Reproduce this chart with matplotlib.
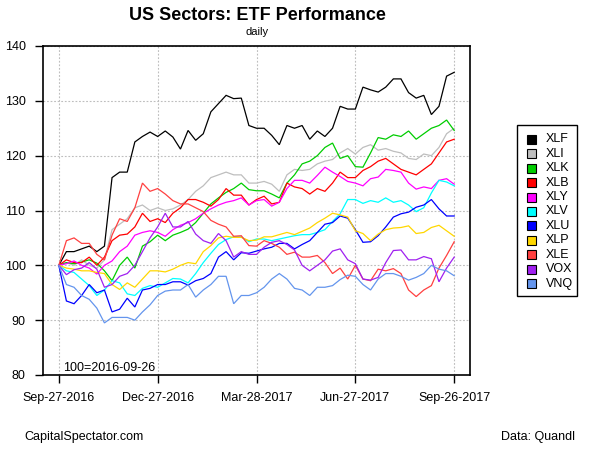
import matplotlib
matplotlib.use("Agg")
import matplotlib.pyplot as plt
import matplotlib.dates as mdates
from matplotlib.patches import Rectangle
import pandas as pd

plt.rcParams['font.family'] = ['Liberation Sans', 'DejaVu Sans']

# weekly samples, 2016-09-27 .. 2017-09-26 (index, 100 = 2016-09-26)
dates = pd.date_range('2016-09-27', periods=53, freq='7D')

tickers = ["XLF", "XLI", "XLK", "XLB", "XLY", "XLV", "XLU", "XLP", "XLE", "VOX", "VNQ"]
colors = ["#000000", "#BEBEBE", "#00CD00", "#FF0000", "#FF00FF", "#00FFFF",
          "#0000FF", "#FFD700", "#FF4040", "#A020F0", "#6495ED"]

XLF = [100, 102.5, 102.5, 103, 103.5, 102.5, 103.5, 116, 117, 117, 122.5, 123.5, 124.3,
       123.5, 124.5, 123.4, 121.2, 124.6, 122.8, 124, 128, 129.5, 131, 130.4, 130.5, 125.5,
       125, 125, 123.7, 122, 125.5, 125, 125.5, 123, 124.5, 123.5, 125, 129, 128.5, 128.5,
       132.5, 132, 131.6, 132.5, 134, 134, 131.5, 130.5, 131, 127.5, 129, 134.5, 135.2]
XLI = [100, 100.5, 100, 101, 100, 99.5, 101, 106.5, 107.5, 108.5, 110.5, 111, 110,
       110.5, 110, 110.3, 111, 112, 113.5, 114.5, 116, 116.5, 117, 116.5, 116.5, 115,
       115, 115.3, 114.8, 113.5, 116.5, 117.5, 117.3, 117.5, 118.5, 119, 119.3, 120.5, 121.3, 120.3,
       121.5, 122, 121, 121.3, 120.8, 120.5, 119.5, 119.3, 120.3, 120, 121.5, 124, 125]
XLK = [100, 100.5, 100.3, 100.6, 101, 100.4, 99, 97.2, 100, 101.5, 99.5, 103.5, 104.3,
       105.5, 104.5, 105.5, 106, 106.6, 107.8, 109.5, 111.2, 112.3, 113.3, 114, 115, 113.8,
       113.6, 113.6, 113, 112.3, 115, 116.5, 118.5, 119, 120, 121.5, 122.3, 119.5, 120, 118,
       117.9, 120.5, 123.3, 123, 123.8, 123.5, 124.5, 123, 124, 125, 125.5, 126.5, 124.6]
XLB = [100, 101, 100.5, 100.5, 101.5, 100, 101.5, 104.5, 105.5, 105.7, 107, 109.5, 108,
       108.5, 107.8, 109.5, 110.5, 112, 112, 111.5, 110.8, 112, 114, 112.8, 112.8, 111,
       112, 112.6, 111.2, 111.5, 115, 114.3, 114, 113, 114, 113.5, 115, 117, 116, 116,
       117.3, 118, 119, 119.5, 118.5, 117.5, 117, 116.5, 117.5, 118.5, 120.5, 122.5, 123]
XLY = [100, 100.3, 100.8, 100, 99.5, 98.4, 100, 100.8, 102.5, 103.5, 105.5, 106, 106.3,
       106, 105.3, 106.5, 107.3, 107.8, 108.5, 109.5, 110.3, 111, 111.5, 111.8, 112.3, 111,
       111.8, 112, 110.8, 111.5, 114, 115.5, 115.5, 115, 116.4, 117.9, 117, 116.2, 115.3, 115,
       114.5, 115.8, 116.1, 117.5, 117.3, 117, 115, 113.9, 114.3, 114, 115.5, 115.8, 114.8]
XLV = [100, 99, 98.7, 97.5, 96.3, 94.5, 95.5, 97.2, 96.8, 94.8, 94.5, 95.8, 96.3,
       96, 96.8, 97.6, 97.5, 96.8, 98.5, 100.5, 102.2, 103.8, 104.7, 105.2, 105.2, 104.3,
       104.8, 104.8, 104.5, 104.8, 105.1, 105.4, 105.6, 105.6, 106, 106.5, 108, 109.4, 112, 112,
       111.3, 111.8, 111.5, 112.3, 111.5, 111.8, 111, 109.8, 110.5, 113.2, 115.5, 115.2, 114.5]
XLU = [100, 93.5, 93, 94.5, 96.5, 95, 95.5, 91.5, 92, 94, 92.4, 95.5, 95.8,
       96.5, 96.5, 97, 97, 96.4, 97.2, 97.6, 98.5, 101.5, 102.5, 101, 102.3, 102.2,
       102.6, 103, 103.3, 104, 104, 103, 103.8, 104.5, 106, 107.5, 107.8, 109, 108.6, 106.5,
       104.2, 104.3, 105.4, 107, 108.8, 109.4, 109.7, 110.6, 111, 112, 110.3, 109, 109]
XLP = [100, 99.5, 99.3, 99, 99, 98.7, 98.5, 96.5, 95.6, 96.8, 96, 97.5, 99,
       99, 98.8, 99.3, 100, 100.5, 100.3, 102.5, 103.6, 105, 105.3, 105.1, 105.1, 104.5,
       104.6, 105.2, 105.2, 105.6, 106, 105.6, 106.2, 106.8, 107.8, 108.6, 109.5, 109.2, 108.8, 106.3,
       105.8, 104.5, 105.7, 106.5, 106.8, 106.9, 107.2, 105.8, 106, 106.9, 107.3, 106.3, 105.3]
XLE = [100, 104.5, 105, 104, 104, 102, 101, 105.5, 108.5, 108, 110.5, 115, 113.5,
       114, 113, 111.8, 111.2, 111.2, 110.5, 109.8, 108.2, 107.5, 107, 105.3, 105.4, 103.6,
       103.5, 104.5, 104, 103.3, 102, 102.4, 101.5, 101.5, 101.8, 100.5, 98.5, 99.5, 97.5, 100,
       97.5, 97.2, 99.3, 99, 99.4, 98.5, 95.5, 94.3, 95.5, 96.3, 99.5, 101.8, 104.3]
VOX = [100, 98.3, 99.2, 99.5, 100.5, 99.3, 96, 96.5, 98, 98.5, 100, 102.5, 105,
       107, 109.5, 107, 107, 108, 105.7, 104.5, 104, 105.8, 104.5, 101.5, 102.5, 102,
       102, 103.3, 104.2, 104.5, 103.8, 102.8, 100, 99, 100, 101, 102.6, 103, 101, 100.3,
       97.5, 97.3, 97.8, 100.5, 102.7, 102.8, 101, 101, 101.6, 101.2, 97, 99.5, 101.5]
VNQ = [100, 96.5, 96, 94.5, 93.8, 92.2, 89.5, 90.5, 90.5, 90.5, 90, 91.5, 92.8,
       94.5, 95.3, 95.5, 95.5, 96.5, 94.2, 95.5, 96.5, 98, 98, 93, 94.5, 94.5,
       95, 96, 97.5, 98.5, 97.5, 95.8, 95.5, 94.5, 96, 96, 96.3, 97.4, 98.2, 98,
       96.5, 95.5, 97.5, 98.5, 98.5, 98, 97.3, 97.8, 98.5, 100, 99.3, 99, 98.1]

series = [XLF, XLI, XLK, XLB, XLY, XLV, XLU, XLP, XLE, VOX, VNQ]

xtick_dates = pd.to_datetime(["2016-09-27", "2016-12-27", "2017-03-28", "2017-06-27", "2017-09-26"])
yticks = [80, 90, 100, 110, 120, 130, 140]

W, H = 600, 450
fig = plt.figure(figsize=(6, 4.5), dpi=100)
L, R, T, B = 43, 470, 46, 375
ax = fig.add_axes([L / W, 1 - B / H, (R - L) / W, (B - T) / H])

for s, c in zip(series, colors):
    ax.plot(dates, s, color=c, lw=0.9, solid_joinstyle='miter')

x0 = mdates.date2num(xtick_dates[0])
x1 = mdates.date2num(xtick_dates[-1])
pad = 0.04 * (x1 - x0)
ax.set_xlim(x0 - pad, x1 + pad)
ax.set_ylim(80, 140)
ax.set_xticks(xtick_dates)
ax.set_xticklabels([d.strftime('%b-%d-%Y') for d in xtick_dates], fontsize=9)
ax.set_yticks(yticks)
ax.set_yticklabels([str(v) for v in yticks], fontsize=9)
ax.tick_params(axis='both', direction='out', length=5.5, width=1, color='black', pad=7)
ax.grid(True, color='#BEBEBE', linestyle=(0, (1.6, 1.6)), lw=0.8)
for sp in ax.spines.values():
    sp.set_linewidth(1.2)
    sp.set_color('black')

fig.text(63 / W, 1 - 368 / H, "100=2016-09-26", fontsize=9, ha='left', va='center')

fig.text(257 / W, 1 - 15 / H, "US Sectors: ETF Performance", fontsize=13,
         fontweight='bold', ha='center', va='center')
fig.text(257 / W, 1 - 32 / H, "daily", fontsize=8, ha='center', va='center')
fig.text(24 / W, 1 - 437 / H, "CapitalSpectator.com", fontsize=9, ha='left', va='center')
fig.text(575 / W, 1 - 437 / H, "Data: Quandl", fontsize=9, ha='right', va='center')

# legend
lx0, lx1, ly0, ly1 = 517, 577, 125, 296
fig.add_artist(Rectangle((lx0 / W, 1 - ly1 / H), (lx1 - lx0) / W, (ly1 - ly0) / H,
                         transform=fig.transFigure, fill=False, edgecolor='black', lw=1))
for i, (t, c) in enumerate(zip(tickers, colors)):
    yc = 139.5 + i * 14.4
    fig.add_artist(Rectangle((527 / W, 1 - (yc + 4.5) / H), 9 / W, 9 / H,
                             transform=fig.transFigure, facecolor=c, edgecolor='black', lw=0.8))
    fig.text(546 / W, 1 - yc / H, t, fontsize=9, ha='left', va='center')

fig.savefig("out.png", dpi=100)
